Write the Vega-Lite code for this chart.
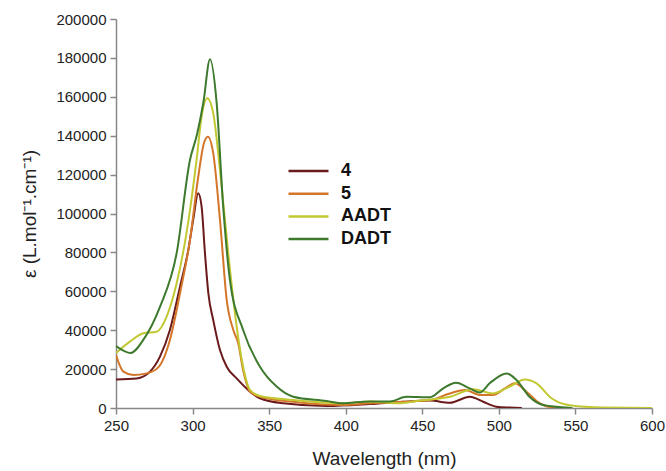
{
  "$schema": "https://vega.github.io/schema/vega-lite/v6.json",
  "width": 536,
  "height": 389,
  "autosize": {"type": "none"},
  "padding": {"left": 116, "top": 19, "right": 14, "bottom": 63},
  "background": "white",
  "config": {
    "view": {"stroke": null},
    "font": "Liberation Sans"
  },
  "data": {
    "values": [
      {"s": "4", "x": 250, "y": 14700},
      {"s": "4", "x": 263.5, "y": 15200},
      {"s": "4", "x": 272.2, "y": 18700},
      {"s": "4", "x": 278.7, "y": 26400},
      {"s": "4", "x": 285.2, "y": 40100},
      {"s": "4", "x": 291.8, "y": 62400},
      {"s": "4", "x": 297.2, "y": 81200},
      {"s": "4", "x": 300.4, "y": 96700},
      {"s": "4", "x": 303.7, "y": 110400},
      {"s": "4", "x": 305.9, "y": 103500},
      {"s": "4", "x": 308.1, "y": 79500},
      {"s": "4", "x": 310.3, "y": 59000},
      {"s": "4", "x": 313.5, "y": 45200},
      {"s": "4", "x": 317.9, "y": 29800},
      {"s": "4", "x": 322.3, "y": 21200},
      {"s": "4", "x": 328.8, "y": 15200},
      {"s": "4", "x": 337.5, "y": 8400},
      {"s": "4", "x": 344, "y": 5000},
      {"s": "4", "x": 359.2, "y": 2400},
      {"s": "4", "x": 387.5, "y": 1000},
      {"s": "4", "x": 415.8, "y": 2000},
      {"s": "4", "x": 437.5, "y": 3200},
      {"s": "4", "x": 455, "y": 3800},
      {"s": "4", "x": 468, "y": 2700},
      {"s": "4", "x": 481, "y": 5800},
      {"s": "4", "x": 489.8, "y": 3200},
      {"s": "4", "x": 498.4, "y": 700},
      {"s": "4", "x": 507, "y": 200},
      {"s": "4", "x": 515, "y": 0},

      {"s": "5", "x": 250, "y": 27200},
      {"s": "5", "x": 254.8, "y": 18700},
      {"s": "5", "x": 261.3, "y": 17000},
      {"s": "5", "x": 270, "y": 17800},
      {"s": "5", "x": 277.6, "y": 20900},
      {"s": "5", "x": 285.2, "y": 35000},
      {"s": "5", "x": 291.8, "y": 59000},
      {"s": "5", "x": 298.3, "y": 86400},
      {"s": "5", "x": 303.7, "y": 118900},
      {"s": "5", "x": 307.4, "y": 136100},
      {"s": "5", "x": 310, "y": 139500},
      {"s": "5", "x": 313.5, "y": 130900},
      {"s": "5", "x": 317.9, "y": 96700},
      {"s": "5", "x": 322.3, "y": 55500},
      {"s": "5", "x": 326.6, "y": 40100},
      {"s": "5", "x": 329.8, "y": 33300},
      {"s": "5", "x": 333, "y": 19500},
      {"s": "5", "x": 337.5, "y": 8400},
      {"s": "5", "x": 344, "y": 5800},
      {"s": "5", "x": 365.7, "y": 3200},
      {"s": "5", "x": 398, "y": 1500},
      {"s": "5", "x": 415.8, "y": 2400},
      {"s": "5", "x": 437.5, "y": 3200},
      {"s": "5", "x": 455, "y": 4100},
      {"s": "5", "x": 468, "y": 7500},
      {"s": "5", "x": 477.8, "y": 9300},
      {"s": "5", "x": 487.6, "y": 6700},
      {"s": "5", "x": 496.2, "y": 6700},
      {"s": "5", "x": 504, "y": 10100},
      {"s": "5", "x": 510.4, "y": 12700},
      {"s": "5", "x": 518, "y": 8400},
      {"s": "5", "x": 526.8, "y": 2400},
      {"s": "5", "x": 535.4, "y": 200},
      {"s": "5", "x": 540, "y": 0},

      {"s": "AADT", "x": 250, "y": 28300},
      {"s": "AADT", "x": 259, "y": 34100},
      {"s": "AADT", "x": 267.8, "y": 38400},
      {"s": "AADT", "x": 276.5, "y": 39200},
      {"s": "AADT", "x": 283, "y": 46900},
      {"s": "AADT", "x": 289.6, "y": 64100},
      {"s": "AADT", "x": 296, "y": 89800},
      {"s": "AADT", "x": 302.6, "y": 127500},
      {"s": "AADT", "x": 305.9, "y": 149800},
      {"s": "AADT", "x": 309.6, "y": 159200},
      {"s": "AADT", "x": 313.5, "y": 151500},
      {"s": "AADT", "x": 317.9, "y": 122400},
      {"s": "AADT", "x": 323.3, "y": 79500},
      {"s": "AADT", "x": 328.8, "y": 41800},
      {"s": "AADT", "x": 333, "y": 21200},
      {"s": "AADT", "x": 337.5, "y": 9300},
      {"s": "AADT", "x": 344, "y": 6200},
      {"s": "AADT", "x": 365.7, "y": 4100},
      {"s": "AADT", "x": 398, "y": 2400},
      {"s": "AADT", "x": 415.8, "y": 3400},
      {"s": "AADT", "x": 433, "y": 2400},
      {"s": "AADT", "x": 448.4, "y": 3800},
      {"s": "AADT", "x": 468, "y": 5800},
      {"s": "AADT", "x": 483.2, "y": 9600},
      {"s": "AADT", "x": 496.2, "y": 7500},
      {"s": "AADT", "x": 507, "y": 11000},
      {"s": "AADT", "x": 517, "y": 14700},
      {"s": "AADT", "x": 524.6, "y": 12700},
      {"s": "AADT", "x": 534.4, "y": 5000},
      {"s": "AADT", "x": 546.3, "y": 1400},
      {"s": "AADT", "x": 568, "y": 200},
      {"s": "AADT", "x": 600, "y": 0},

      {"s": "DADT", "x": 250, "y": 31900},
      {"s": "DADT", "x": 259.6, "y": 28300},
      {"s": "DADT", "x": 267.8, "y": 35000},
      {"s": "DADT", "x": 278.7, "y": 52000},
      {"s": "DADT", "x": 289.6, "y": 79600},
      {"s": "DADT", "x": 298.3, "y": 127500},
      {"s": "DADT", "x": 303, "y": 141000},
      {"s": "DADT", "x": 307, "y": 156800},
      {"s": "DADT", "x": 311.4, "y": 179300},
      {"s": "DADT", "x": 315.7, "y": 157000},
      {"s": "DADT", "x": 320, "y": 103500},
      {"s": "DADT", "x": 324.4, "y": 65800},
      {"s": "DADT", "x": 333, "y": 40100},
      {"s": "DADT", "x": 344, "y": 21200},
      {"s": "DADT", "x": 354.9, "y": 11000},
      {"s": "DADT", "x": 365.7, "y": 5800},
      {"s": "DADT", "x": 387.5, "y": 3600},
      {"s": "DADT", "x": 398, "y": 2400},
      {"s": "DADT", "x": 415.8, "y": 3400},
      {"s": "DADT", "x": 428.9, "y": 3400},
      {"s": "DADT", "x": 439.7, "y": 5800},
      {"s": "DADT", "x": 455, "y": 5500},
      {"s": "DADT", "x": 463.7, "y": 10100},
      {"s": "DADT", "x": 472, "y": 13000},
      {"s": "DADT", "x": 481, "y": 10100},
      {"s": "DADT", "x": 487.6, "y": 8000},
      {"s": "DADT", "x": 494, "y": 12700},
      {"s": "DADT", "x": 505, "y": 17800},
      {"s": "DADT", "x": 511.5, "y": 14400},
      {"s": "DADT", "x": 520, "y": 5800},
      {"s": "DADT", "x": 529, "y": 1500},
      {"s": "DADT", "x": 544, "y": 200},
      {"s": "DADT", "x": 548, "y": 0}
    ]
  },
  "mark": {"type": "line", "interpolate": "monotone", "strokeWidth": 2, "clip": true},
  "encoding": {
    "x": {
      "field": "x", "type": "quantitative",
      "scale": {"domain": [250, 600], "nice": false, "zero": false},
      "axis": {
        "title": "Wavelength (nm)",
        "values": [250, 300, 350, 400, 450, 500, 550, 600],
        "grid": false,
        "labelFlush": false,
        "domainColor": "#888888", "domainWidth": 1.5,
        "tickColor": "#888888", "tickSize": 6, "tickWidth": 1.5,
        "labelFontSize": 15, "labelColor": "#222222", "labelPadding": 4,
        "titleFontSize": 19, "titleFontWeight": "normal", "titleColor": "#222222",
        "titlePadding": 16
      }
    },
    "y": {
      "field": "y", "type": "quantitative",
      "scale": {"domain": [0, 200000], "nice": false},
      "axis": {
        "title": "ε (L.mol⁻¹.cm⁻¹)",
        "values": [0, 20000, 40000, 60000, 80000, 100000, 120000, 140000, 160000, 180000, 200000],
        "format": "d",
        "grid": false,
        "labelFlush": false,
        "domainColor": "#888888", "domainWidth": 1.5,
        "tickColor": "#888888", "tickSize": 6, "tickWidth": 1.5,
        "labelFontSize": 15, "labelColor": "#222222", "labelPadding": 4,
        "titleFontSize": 19, "titleFontWeight": "normal", "titleColor": "#222222",
        "titlePadding": 16
      }
    },
    "color": {
      "field": "s", "type": "nominal",
      "scale": {
        "domain": ["4", "5", "AADT", "DADT"],
        "range": ["#6B1A1C", "#D4762A", "#C2C832", "#3E7A2E"]
      },
      "legend": {
        "title": null,
        "orient": "none",
        "legendX": 171,
        "legendY": 143,
        "padding": 0,
        "symbolType": "M-1,0H1",
        "symbolSize": 1600,
        "symbolStrokeWidth": 2.5,
        "clipHeight": 18,
        "rowPadding": 4.7,
        "labelOffset": 11,
        "labelFontSize": 18,
        "labelFontWeight": "bold",
        "labelColor": "#111111"
      }
    }
  }
}
